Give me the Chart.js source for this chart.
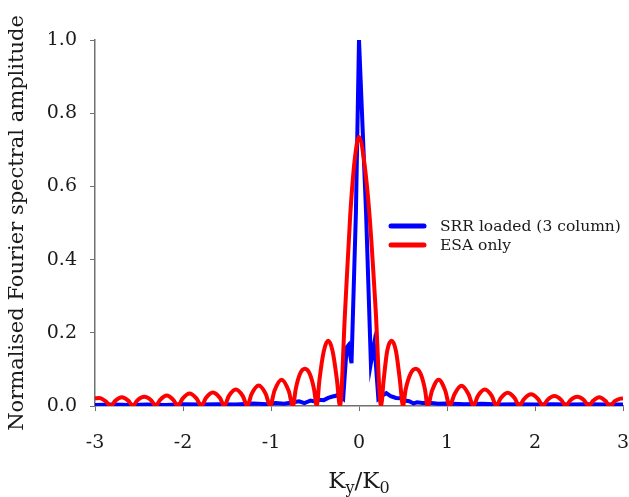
<!DOCTYPE html>
<html>
<head>
<meta charset="utf-8">
<script src="https://cdn.jsdelivr.net/npm/chart.js@4"></script>
<style>
  html, body { margin: 0; padding: 0; background: #fff; }
  #wrap { width: 629px; height: 497px; }
</style>
</head>
<body>
<div id="wrap"><canvas id="c" width="629" height="497"></canvas></div>
<script>
// --- data ---
const seriesNames = ['SRR loaded (3 column)', 'ESA only'];

const xTickVals = [-3, -2, -1, 0, 1, 2, 3];
const xTickLabels = ['-3', '-2', '-1', '0', '1', '2', '3'];
const yTickVals = [0, 0.2, 0.4, 0.6, 0.8, 1.0];
const yTickLabels = ['0.0', '0.2', '0.4', '0.6', '0.8', '1.0'];

// ESA only (red)
const esaX = [
  -3.00, -2.95, -2.88, -2.82,
  -2.77, -2.695, -2.62, -2.57,
  -2.52, -2.44, -2.36, -2.31,
  -2.26, -2.185, -2.11, -2.06,
  -2.005, -1.925, -1.845, -1.79,
  -1.74, -1.66, -1.58, -1.53,
  -1.48, -1.40, -1.32, -1.27,
  -1.22, -1.14, -1.06, -1.01,
  -0.96, -0.88, -0.80, -0.75,
  -0.72, -0.67, -0.615, -0.56, -0.51, -0.48,
  -0.45, -0.40, -0.35, -0.30, -0.25, -0.216,
  -0.16, -0.10, -0.05, 0.00, 0.06, 0.12, 0.19, 0.25,
  0.28, 0.32, 0.37, 0.42, 0.465, 0.50,
  0.53, 0.585, 0.645, 0.70, 0.75, 0.78,
  0.83, 0.905, 0.98, 1.03,
  1.085, 1.165, 1.245, 1.30,
  1.35, 1.43, 1.51, 1.56,
  1.61, 1.69, 1.77, 1.82,
  1.875, 1.955, 2.035, 2.09,
  2.14, 2.22, 2.30, 2.35,
  2.40, 2.48, 2.56, 2.61,
  2.66, 2.73, 2.80, 2.85,
  2.91, 2.97, 3.00
];
const esaY = [
  0.021, 0.022, 0.013, 0,
  0.014, 0.024, 0.014, 0,
  0.015, 0.025, 0.015, 0,
  0.017, 0.029, 0.017, 0,
  0.020, 0.034, 0.020, 0,
  0.022, 0.037, 0.022, 0,
  0.027, 0.045, 0.027, 0,
  0.033, 0.056, 0.033, 0,
  0.042, 0.072, 0.042, 0,
  0.045, 0.088, 0.102, 0.088, 0.045, 0,
  0.070, 0.150, 0.178, 0.150, 0.070, 0,
  0.250, 0.520, 0.670, 0.735, 0.665, 0.520, 0.260, 0,
  0.070, 0.150, 0.178, 0.150, 0.070, 0,
  0.045, 0.088, 0.102, 0.088, 0.045, 0,
  0.042, 0.072, 0.042, 0,
  0.032, 0.055, 0.032, 0,
  0.027, 0.045, 0.027, 0,
  0.021, 0.036, 0.021, 0,
  0.019, 0.032, 0.019, 0,
  0.016, 0.027, 0.016, 0,
  0.015, 0.025, 0.015, 0,
  0.014, 0.024, 0.014, 0,
  0.014, 0.020, 0.021
];

// SRR loaded (blue)
const srrX = [
  -3.00, -2.80, -2.60, -2.40, -2.20, -2.00, -1.80, -1.60, -1.40, -1.20,
  -1.05, -0.95, -0.85, -0.75, -0.68, -0.62, -0.55, -0.50, -0.45, -0.40,
  -0.35, -0.30, -0.26, -0.23, -0.20, -0.18, -0.14, -0.12, -0.085, -0.035,
  0.00, 0.08, 0.135, 0.17, 0.19, 0.22, 0.26, 0.31, 0.36, 0.42,
  0.47, 0.52, 0.57, 0.62, 0.66, 0.72, 0.80, 0.90, 1.00, 1.20,
  1.40, 1.60, 1.80, 2.00, 2.20, 2.40, 2.60, 2.80, 3.00
];
const srrY = [
  0.003, 0.004, 0.003, 0.004, 0.003, 0.005, 0.004, 0.005, 0.004, 0.007,
  0.005, 0.008, 0.006, 0.010, 0.013, 0.008, 0.015, 0.012, 0.017, 0.016,
  0.022, 0.026, 0.028, 0.033, 0.024, 0.020, 0.160, 0.166, 0.117, 0.530,
  1.000, 0.530, 0.117, 0.166, 0.120, 0.020, 0.028, 0.035, 0.027, 0.022,
  0.021, 0.015, 0.013, 0.007, 0.010, 0.008, 0.009, 0.006, 0.007, 0.005,
  0.006, 0.004, 0.005, 0.004, 0.005, 0.004, 0.005, 0.004, 0.004
];

const FONT = "'DejaVu Serif', 'Liberation Serif', serif";
const INK = '#1a1a1a';
const AXIS = '#707070';

const toPoints = (xs, ys) => xs.map((x, i) => ({ x, y: ys[i] }));

// legend drawn inside the plot, like the reference
const legendPlugin = {
  id: 'insideLegend',
  afterDraw(chart) {
    const ctx = chart.ctx;
    const items = [
      { text: seriesNames[0], color: '#0000ff', y: 226 },
      { text: seriesNames[1], color: '#ff0000', y: 245 },
    ];
    ctx.save();
    ctx.lineCap = 'round';
    ctx.lineWidth = 5;
    ctx.font = '15.5px ' + FONT;
    ctx.textBaseline = 'middle';
    ctx.fillStyle = INK;
    items.forEach(it => {
      ctx.strokeStyle = it.color;
      ctx.beginPath();
      ctx.moveTo(391, it.y);
      ctx.lineTo(424, it.y);
      ctx.stroke();
      ctx.fillText(it.text, 440, it.y + 1);
    });
    ctx.restore();
  },
};

// x title with subscripts: K_y/K_0
const xTitlePlugin = {
  id: 'xTitle',
  afterDraw(chart) {
    const ctx = chart.ctx;
    const parts = [
      { t: 'K', size: 23, dy: 0 },
      { t: 'y', size: 16, dy: 5 },
      { t: '/K', size: 23, dy: 0 },
      { t: '0', size: 16, dy: 5 },
    ];
    ctx.save();
    ctx.fillStyle = INK;
    ctx.textBaseline = 'alphabetic';
    let total = 0;
    parts.forEach(p => {
      ctx.font = p.size + 'px ' + FONT;
      p.w = ctx.measureText(p.t).width;
      total += p.w;
    });
    let x = 359 - total / 2;
    const base = 488;
    parts.forEach(p => {
      ctx.font = p.size + 'px ' + FONT;
      ctx.fillText(p.t, x, base + p.dy);
      x += p.w;
    });
    ctx.restore();
  },
};

new Chart(document.getElementById('c'), {
  type: 'line',
  data: {
    datasets: [
      {
        label: seriesNames[0],
        data: toPoints(srrX, srrY),
        borderColor: '#0000ff',
        borderWidth: 4,
        pointRadius: 0,
        tension: 0,
        order: 1,
      },
      {
        label: seriesNames[1],
        data: toPoints(esaX, esaY),
        borderColor: '#ff0000',
        borderWidth: 4,
        pointRadius: 0,
        cubicInterpolationMode: 'monotone',
        order: 0,
      },
    ],
  },
  options: {
    responsive: false,
    animation: false,
    layout: { padding: { left: 0, right: 6, top: 40, bottom: 0 } },
    plugins: {
      legend: { display: false },
      tooltip: { enabled: false },
    },
    scales: {
      x: {
        type: 'linear',
        min: -3,
        max: 3,
        afterBuildTicks: s => { s.ticks = xTickVals.map(v => ({ value: v })); },
        afterFit: s => { s.height = 91; s.paddingLeft = 0; s.paddingRight = 0; },
        ticks: {
          callback: (v, i) => xTickLabels[i],
          color: INK,
          font: { family: FONT, size: 19 },
          padding: 21,
          maxRotation: 0,
        },
        grid: {
          drawOnChartArea: false,
          drawTicks: true,
          tickLength: 5,
          color: AXIS,
        },
        border: { color: AXIS, width: 1.5 },
      },
      y: {
        type: 'linear',
        min: 0,
        max: 1,
        afterBuildTicks: s => { s.ticks = yTickVals.map(v => ({ value: v })); },
        afterFit: s => { s.width = 95; s.paddingTop = 0; s.paddingBottom = 0; },
        ticks: {
          callback: (v, i) => yTickLabels[i],
          color: INK,
          font: { family: FONT, size: 19 },
          padding: 13,
        },
        grid: {
          drawOnChartArea: false,
          drawTicks: true,
          tickLength: 5,
          color: AXIS,
        },
        border: { color: AXIS, width: 1.5 },
        title: {
          display: true,
          text: 'Normalised Fourier spectral amplitude',
          color: INK,
          font: { family: FONT, size: 21 },
          padding: { top: 5, bottom: 0 },
        },
      },
    },
  },
  plugins: [legendPlugin, xTitlePlugin],
});
</script>
</body>
</html>
